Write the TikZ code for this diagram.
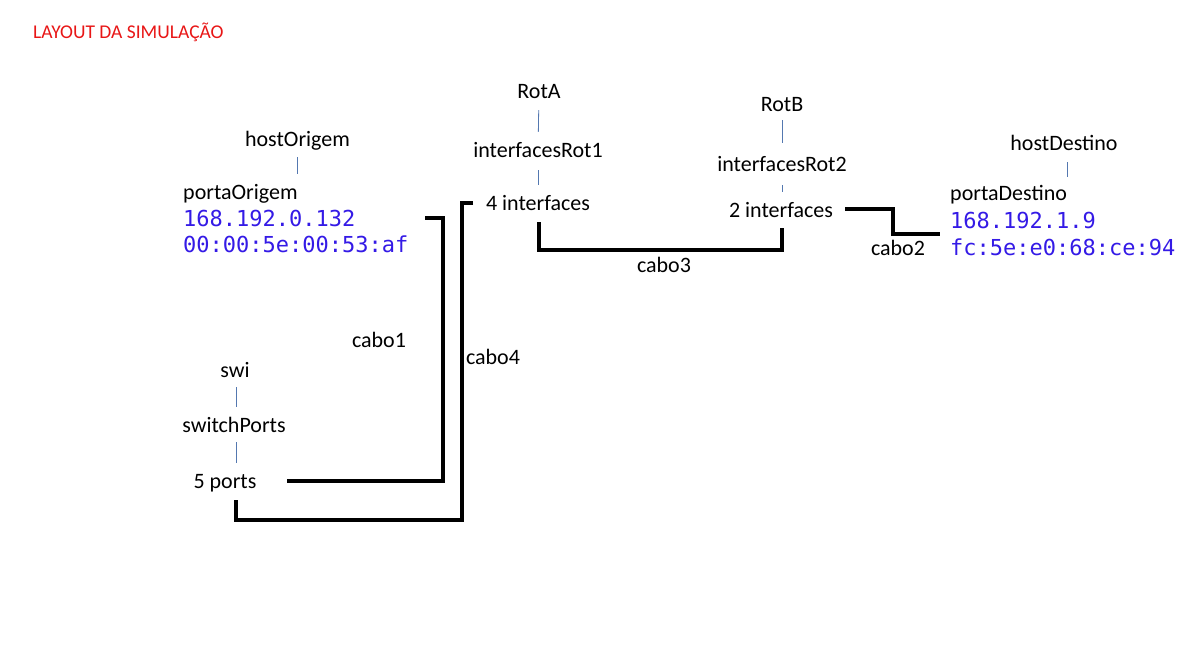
\documentclass[tikz,border=0pt]{standalone}
\usepackage{fontspec}
\setmainfont{Carlito}
\newfontfamily\addrfont{DejaVu Sans Mono}
\usepackage{tikz}
\definecolor{titlered}{RGB}{232,22,22}
\definecolor{addrblue}{RGB}{52,26,230}
\definecolor{tickblue}{RGB}{84,120,176}

\begin{document}
\begin{tikzpicture}[x=1pt, y=-1pt,
    lbl/.style={inner sep=0pt, anchor=base, font=\fontsize{22}{26}\selectfont, text height=15pt, text depth=4pt},
    lblw/.style={lbl, anchor=base west},
    addr/.style={inner sep=0pt, anchor=base west, text=addrblue, font=\addrfont\fontsize{22}{26}\selectfont},
    tick/.style={draw=tickblue, line width=0.8pt, shorten <=7pt, shorten >=10pt},
    cable/.style={draw=black, line width=3.5pt}]
            \useasboundingbox (0,0) rectangle (1190,669);
            \node[inner sep=0pt, anchor=base west, text=titlered, font=\fontsize{19.5}{23}\selectfont] (title) at (33,39) {LAYOUT DA SIMULAÇÃO};
            % host de origem
            \node[lbl] (hostO) at (297.5,146) {hostOrigem};
            \node[lblw] (portaO) at (183,199) {portaOrigem};
            \node[addr] (ipO) at (183,226) {168.192.0.132};
            \node[addr] (macO) at (183,252) {00:00:5e:00:53:af};
            % roteadores
            \node[lbl] (rotA) at (539,98) {RotA};
            \node[lbl] (ifR1) at (538,157) {interfacesRot1};
            \node[lbl] (if4) at (538,210) {4 interfaces};
            \node[lbl] (rotB) at (782,111) {RotB};
            \node[lbl] (ifR2) at (782,171) {interfacesRot2};
            \node[lbl] (if2) at (781,217) {2 interfaces};
            % host de destino
            \node[lbl] (hostD) at (1064,150) {hostDestino};
            \node[lblw] (portaD) at (950,200) {portaDestino};
            \node[addr] (ipD) at (950,228) {168.192.1.9};
            \node[addr] (macD) at (950,255) {fc:5e:e0:68:ce:94};
            % switch
            \node[lbl] (swi) at (235,377) {swi};
            \node[lbl] (sPorts) at (234,432) {switchPorts};
            \node[lbl] (ports5) at (225,488) {5 ports};
            % cabos
            \node[lbl] (cabo1) at (379,347) {cabo1};
            \node[lbl] (cabo2) at (898,255) {cabo2};
            \node[lbl] (cabo3) at (664,272) {cabo3};
            \node[lbl] (cabo4) at (493,364) {cabo4};
            \draw[tick] (hostO.south) -- (hostO.south |- portaO.north);
            \draw[tick, shorten <=8pt] (rotA) -- (ifR1);
            \draw[tick, shorten <=9pt] (ifR1) -- (if4);
            \draw[tick, shorten <=5pt, shorten >=13pt] (rotB) -- (ifR2);
            \draw[tick, shorten <=10pt] (ifR2.south) -- (ifR2.south |- if2.north);
            \draw[tick, shorten <=8pt, shorten >=8pt] ([xshift=3pt]hostD.south) -- ([xshift=3pt]hostD.south |- portaD.north);
            \draw[tick, shorten <=6pt] ([xshift=1pt]swi.south) -- ([xshift=1pt]swi.south |- sPorts.north);
            \draw[tick, shorten <=6pt] ([xshift=2pt]sPorts.south) -- ([xshift=2pt]sPorts.south |- ports5.north);
            \coordinate (c1a) at (425,218);
            \coordinate (c1b) at (287,481);
            \coordinate (c4a) at (473,203);
            \coordinate (c4b) at (236,500);
            \coordinate (c3a) at (539,222);
            \coordinate (c3b) at (782,228);
            \coordinate (c2a) at (845,209);
            \coordinate (c2b) at (940,234);
            \draw[cable] (c1a) -- ++(18,0) |- (c1b);
            \draw[cable] (c4a) -- ++(-11,0) -- ++(0,317) -| (c4b);
            \draw[cable] (c3a) -- ++(0,28) -| (c3b);
            \draw[cable] (c2a) -| ++(48,25) -- (c2b);
        \end{tikzpicture}
\end{document}
